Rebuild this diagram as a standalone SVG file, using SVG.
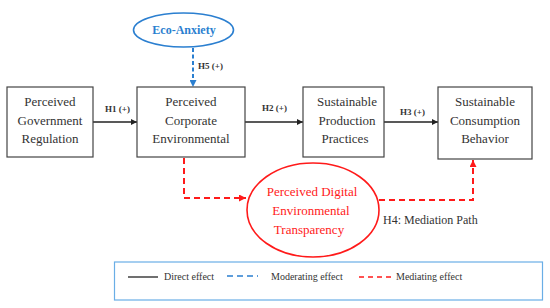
<svg xmlns="http://www.w3.org/2000/svg" width="550" height="308" viewBox="0 0 550 308">
<style>
.box{fill:#fff;stroke:#444;stroke-width:1.2}
.t{font-family:"Liberation Serif","Times New Roman",serif;font-size:13px;fill:#333;text-anchor:middle}
.rt{font-family:"Liberation Serif","Times New Roman",serif;font-size:13px;fill:#ff1a1a;text-anchor:middle}
.h{font-family:"Liberation Serif","Times New Roman",serif;font-size:9px;font-weight:bold;fill:#333}
.lg{font-family:"Liberation Serif","Times New Roman",serif;font-size:10px;fill:#333}
.solid{stroke:#222;stroke-width:1.6;fill:none}
.blue{stroke:#2b7fd0;stroke-width:2;fill:none;stroke-dasharray:4 2.5}
.red{stroke:#ff1a1a;stroke-width:2;fill:none;stroke-dasharray:6 4}
</style>
<defs>
<marker id="ab" viewBox="0 0 10 10" refX="10" refY="5" markerWidth="6" markerHeight="6" markerUnits="userSpaceOnUse" orient="auto"><path d="M0,0 L10,5 L0,10 z" fill="#222"/></marker>
<marker id="ablue" viewBox="0 0 10 10" refX="10" refY="5" markerWidth="7" markerHeight="7" markerUnits="userSpaceOnUse" orient="auto"><path d="M0,0 L10,5 L0,10 z" fill="#2b7fd0"/></marker>
<marker id="ared" viewBox="0 0 10 10" refX="10" refY="5" markerWidth="7" markerHeight="7" markerUnits="userSpaceOnUse" orient="auto"><path d="M0,0 L10,5 L0,10 z" fill="#ff1a1a"/></marker>
</defs>
<rect width="550" height="308" fill="#fff"/>

<g id="connectors">
<line class="solid" x1="93" y1="122" x2="137" y2="122" marker-end="url(#ab)"/>
<text class="h" x="105" y="112">H1 (+)</text>
<line class="solid" x1="245" y1="122" x2="303" y2="122" marker-end="url(#ab)"/>
<text class="h" x="262" y="111">H2 (+)</text>
<line class="solid" x1="384" y1="122" x2="438" y2="122" marker-end="url(#ab)"/>
<text class="h" x="400" y="115">H3 (+)</text>
<line class="blue" x1="193" y1="48" x2="193" y2="87" marker-end="url(#ablue)"/>
<text class="h" x="198" y="69">H5 (+)</text>
<path class="red" d="M184,158 V198 H246" marker-end="url(#ared)"/>
<path class="red" d="M379,200 H473 V160" marker-end="url(#ared)"/>
<text x="383" y="224" font-family="Liberation Serif, Times New Roman, serif" font-size="12" fill="#333">H4: Mediation Path</text>
</g>

<g id="eco-anxiety">
<ellipse cx="183.5" cy="30" rx="50" ry="17" fill="#fff" stroke="#2b7fd0" stroke-width="1.6"/>
<text x="184" y="34" font-family="Liberation Serif, Times New Roman, serif" font-size="12" font-weight="bold" fill="#2b7fd0" text-anchor="middle">Eco-Anxiety</text>
</g>

<g id="gov-regulation">
<rect class="box" x="7" y="87" width="86" height="70"/>
<text class="t" x="50" y="106">Perceived</text>
<text class="t" x="50" y="125">Government</text>
<text class="t" x="50" y="143">Regulation</text>
</g>

<g id="corp-environmental">
<rect class="box" x="137" y="87" width="108" height="70"/>
<text class="t" x="191" y="106">Perceived</text>
<text class="t" x="191" y="125">Corporate</text>
<text class="t" x="191" y="143">Environmental</text>
</g>

<g id="production-practices">
<rect class="box" x="303" y="87" width="81" height="70"/>
<text class="t" x="347" y="106">Sustainable</text>
<text class="t" x="347" y="125">Production</text>
<text class="t" x="345" y="143">Practices</text>
</g>

<g id="consumption-behavior">
<rect class="box" x="438" y="87" width="94" height="72"/>
<text class="t" x="485" y="106">Sustainable</text>
<text class="t" x="485" y="125">Consumption</text>
<text class="t" x="485" y="143">Behavior</text>
</g>

<g id="digital-transparency">
<ellipse cx="313" cy="210" rx="66" ry="47" fill="#fff" stroke="#ff1a1a" stroke-width="1.6"/>
<text class="rt" x="312" y="196">Perceived Digital</text>
<text class="rt" x="311" y="215">Environmental</text>
<text class="rt" x="309" y="234">Transparency</text>
</g>

<g id="legend">
<rect x="114.5" y="262" width="428" height="38" fill="#fff" stroke="#6aaee6" stroke-width="1.2"/>
<line x1="128" y1="277" x2="158" y2="277" stroke="#333" stroke-width="1.4"/>
<text class="lg" x="164" y="280">Direct effect</text>
<line x1="227" y1="276" x2="258" y2="276" stroke="#2b7fd0" stroke-width="1.6" stroke-dasharray="6 4"/>
<text class="lg" x="271" y="280">Moderating effect</text>
<line x1="359" y1="277" x2="391" y2="277" stroke="#ff1a1a" stroke-width="1.6" stroke-dasharray="5 4"/>
<text class="lg" x="396" y="280">Mediating effect</text>
</g>
</svg>
